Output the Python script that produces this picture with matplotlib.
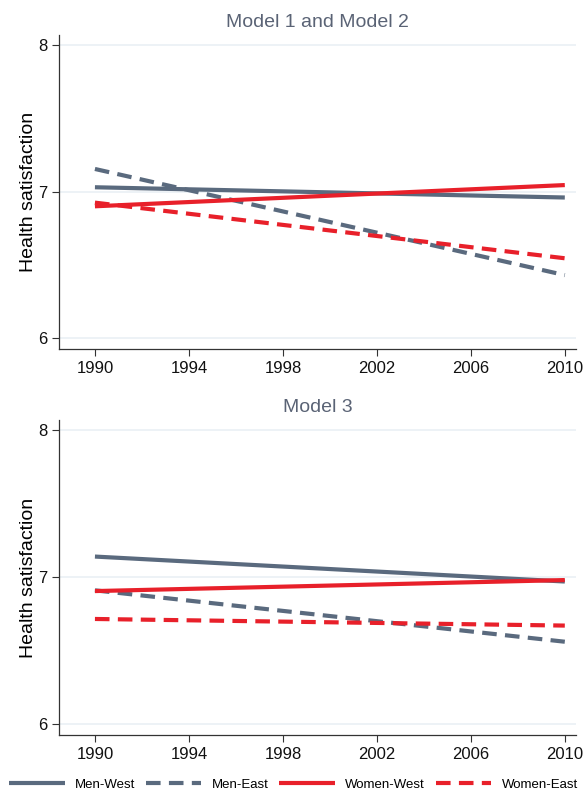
import matplotlib
matplotlib.use("Agg")
import matplotlib.pyplot as plt

plt.rcParams['font.family'] = ['Liberation Sans', 'DejaVu Sans']

years = [1990, 2010]
series = ["Men-West", "Men-East", "Women-West", "Women-East"]

# Model 1 and Model 2
top_men_west = [7.03, 6.96]
top_men_east = [7.155, 6.43]
top_women_west = [6.90, 7.045]
top_women_east = [6.925, 6.545]

# Model 3
bot_men_west = [7.14, 6.97]
bot_men_east = [6.91, 6.56]
bot_women_west = [6.905, 6.98]
bot_women_east = [6.715, 6.67]

titles = ["Model 1 and Model 2", "Model 3"]
xticks = [1990, 1994, 1998, 2002, 2006, 2010]
yticks = [6, 7, 8]

gray = "#5a6a7e"
red = "#e8202a"
styles = [(gray, "-"), (gray, (0, (3.5, 2))), (red, "-"), (red, (0, (3.5, 2)))]

fig = plt.figure(figsize=(5.87, 7.92), dpi=100)
ax1 = fig.add_axes([0.1005, 0.5593, 0.8805, 0.3965])
ax2 = fig.add_axes([0.1005, 0.072, 0.8805, 0.3977])

data = [
    [top_men_west, top_men_east, top_women_west, top_women_east],
    [bot_men_west, bot_men_east, bot_women_west, bot_women_east],
]

for ax, title, vals in zip([ax1, ax2], titles, data):
    for name, v, (c, ls) in zip(series, vals, styles):
        ax.plot(years, v, color=c, linestyle=ls, linewidth=3, label=name,
                solid_capstyle="butt")
    ax.set_xlim(1988.47, 2010.47)
    ax.set_ylim(5.925, 8.07)
    ax.set_xticks(xticks)
    ax.set_yticks(yticks)
    ax.grid(axis="y", color="#eaf0f5", linewidth=1.2, zorder=0)
    ax.set_axisbelow(True)
    for s in ["top", "right"]:
        ax.spines[s].set_visible(False)
    for s in ["left", "bottom"]:
        ax.spines[s].set_color("#333333")
        ax.spines[s].set_linewidth(0.9)
    ax.tick_params(labelsize=12, length=5, color="#333333", labelcolor="#111111")
    ax.set_ylabel("Health satisfaction", fontsize=14, labelpad=1)
    ax.set_title(title, fontsize=14, color="#5a6375", pad=6)

handles, labels = ax1.get_legend_handles_labels()
fig.legend(handles, labels, loc="center", bbox_to_anchor=(0.5, 0.009), ncol=4,
           frameon=False, fontsize=9.5, handlelength=4.2, columnspacing=0.8,
           handletextpad=0.8, borderaxespad=0.0)

fig.savefig("out.png", dpi=100)
